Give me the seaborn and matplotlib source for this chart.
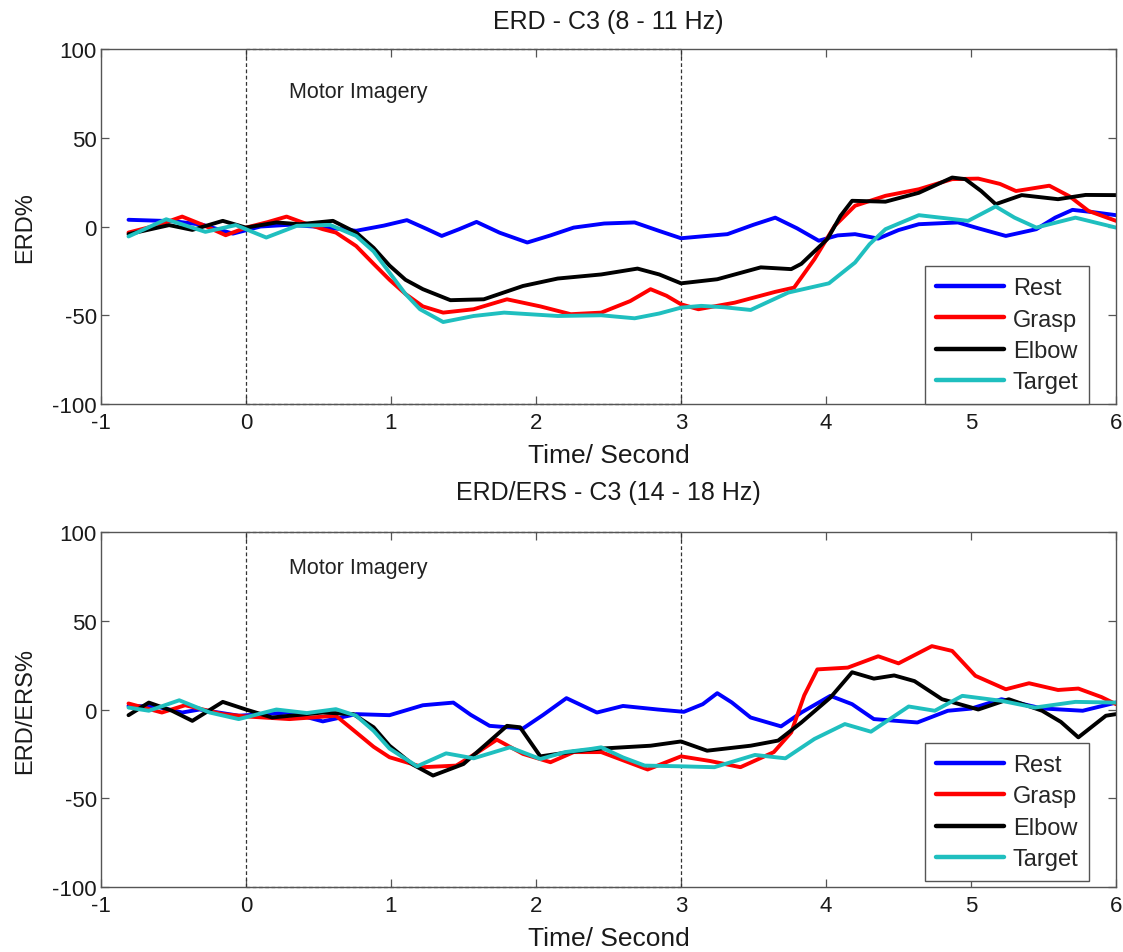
import matplotlib
matplotlib.use("Agg")
import matplotlib.pyplot as plt
import seaborn as sns
import pandas as pd

# ---- ERD, C3, 8-11 Hz ----
a_rest_t = [-0.81, -0.5, -0.3, -0.09, 0.1, 0.3, 0.55, 0.76, 0.95, 1.11, 1.25, 1.35, 1.47, 1.59, 1.75, 1.94, 2.1, 2.26, 2.47, 2.68, 2.85, 3.0, 3.15, 3.32, 3.5, 3.65, 3.8, 3.95, 4.08, 4.2, 4.36, 4.5, 4.64, 4.91, 5.05, 5.24, 5.45, 5.58, 5.7, 5.85, 6.0]
a_rest_v = [3.8, 3.0, 1.0, -4.0, 0.0, 1.0, -0.5, -2.4, 0.5, 3.6, -1.5, -5.3, -1.5, 2.6, -3.5, -9.0, -5.0, -0.6, 1.7, 2.3, -2.5, -6.6, -5.5, -4.3, 1.0, 5.0, -1.0, -8.0, -5.0, -4.3, -6.8, -2.0, 1.3, 2.3, -1.0, -5.3, -1.5, 5.0, 9.4, 8.0, 6.4]

a_grasp_t = [-0.81, -0.6, -0.44, -0.3, -0.14, 0.0, 0.15, 0.28, 0.4, 0.53, 0.62, 0.76, 0.88, 0.99, 1.1, 1.22, 1.36, 1.57, 1.8, 2.03, 2.24, 2.45, 2.65, 2.79, 2.9, 3.0, 3.12, 3.37, 3.65, 3.78, 3.92, 4.06, 4.2, 4.41, 4.64, 4.87, 5.05, 5.2, 5.31, 5.54, 5.68, 5.81, 6.0]
a_grasp_v = [-3.4, 1.0, 5.6, 1.0, -4.9, -0.6, 2.5, 5.6, 2.0, -1.5, -3.4, -11.0, -21.0, -30.0, -38.0, -45.0, -48.5, -46.6, -41.0, -45.0, -49.4, -48.5, -42.0, -35.3, -39.0, -43.8, -46.6, -42.9, -36.8, -34.4, -18.4, 0.4, 11.7, 17.3, 21.0, 26.7, 27.0, 24.0, 20.0, 23.0, 17.0, 8.8, 3.2]

a_elbow_t = [-0.81, -0.53, -0.37, -0.16, 0.0, 0.21, 0.37, 0.6, 0.76, 0.88, 0.99, 1.1, 1.22, 1.41, 1.64, 1.91, 2.15, 2.45, 2.7, 2.85, 3.0, 3.25, 3.55, 3.76, 3.83, 4.01, 4.1, 4.18, 4.41, 4.64, 4.87, 4.96, 5.07, 5.17, 5.35, 5.6, 5.79, 6.0]
a_elbow_v = [-4.3, 0.8, -1.9, 3.2, -0.6, 2.3, 1.3, 3.2, -3.4, -12.0, -22.0, -30.0, -35.3, -41.5, -41.0, -33.5, -29.3, -27.0, -23.7, -27.0, -32.0, -29.7, -23.0, -24.0, -21.0, -7.0, 6.0, 14.5, 14.0, 19.0, 27.6, 26.7, 20.0, 12.6, 17.7, 15.4, 17.8, 17.7]

a_target_t = [-0.81, -0.55, -0.28, -0.07, 0.14, 0.35, 0.58, 0.76, 0.88, 0.99, 1.1, 1.2, 1.36, 1.57, 1.78, 2.15, 2.45, 2.68, 2.85, 3.0, 3.14, 3.3, 3.48, 3.74, 4.02, 4.2, 4.3, 4.41, 4.64, 4.98, 5.17, 5.3, 5.45, 5.72, 6.0]
a_target_v = [-5.6, 4.1, -3.0, 0.8, -6.2, 0.4, 0.9, -5.3, -14.0, -26.0, -38.0, -46.6, -53.8, -50.4, -48.5, -50.4, -50.0, -51.7, -49.0, -45.7, -44.7, -45.5, -47.0, -37.2, -32.0, -20.3, -10.0, -1.5, 6.4, 3.2, 11.3, 5.0, -0.6, 5.0, -0.6]

# ---- ERD/ERS, C3, 14-18 Hz ----
b_rest_t = [-0.81, -0.62, -0.44, -0.32, -0.05, 0.3, 0.53, 0.76, 0.99, 1.22, 1.43, 1.55, 1.68, 1.91, 2.05, 2.21, 2.42, 2.6, 2.84, 3.02, 3.15, 3.25, 3.35, 3.48, 3.69, 3.83, 4.03, 4.18, 4.33, 4.63, 4.84, 5.0, 5.21, 5.49, 5.77, 6.0]
b_rest_v = [2.0, 1.7, -1.7, 0.0, -3.5, -1.7, -6.7, -2.6, -3.2, 2.4, 3.9, -3.0, -9.2, -10.7, -3.0, 6.4, -1.7, 2.0, 0.0, -1.3, 3.0, 9.2, 4.0, -4.5, -9.5, -1.7, 7.7, 3.0, -5.4, -7.3, -0.7, 0.5, 5.8, 0.6, -0.7, 3.9]

b_grasp_t = [-0.81, -0.58, -0.42, -0.16, 0.0, 0.3, 0.62, 0.76, 0.88, 0.99, 1.22, 1.45, 1.6, 1.73, 1.91, 2.1, 2.26, 2.45, 2.77, 3.0, 3.2, 3.41, 3.64, 3.76, 3.85, 3.94, 4.15, 4.36, 4.5, 4.73, 4.87, 5.03, 5.24, 5.4, 5.6, 5.74, 5.9, 6.0]
b_grasp_v = [3.4, -1.7, 2.4, -2.6, -3.9, -5.4, -3.5, -12.9, -21.0, -26.9, -32.5, -31.6, -24.0, -17.0, -25.0, -29.7, -24.0, -24.0, -33.8, -26.4, -29.0, -32.5, -24.0, -12.9, 8.0, 22.6, 23.6, 30.0, 26.0, 35.7, 33.0, 19.0, 11.4, 14.8, 11.0, 11.8, 7.0, 3.0]

b_elbow_t = [-0.81, -0.67, -0.51, -0.37, -0.16, 0.0, 0.18, 0.53, 0.74, 0.88, 0.99, 1.15, 1.29, 1.5, 1.65, 1.8, 1.89, 2.03, 2.26, 2.45, 2.79, 3.0, 3.18, 3.48, 3.67, 3.83, 4.03, 4.18, 4.33, 4.47, 4.61, 4.8, 5.05, 5.26, 5.49, 5.62, 5.74, 5.93, 6.0]
b_elbow_v = [-3.2, 3.9, -0.7, -6.4, 4.3, 0.0, -4.5, -1.7, -2.6, -10.0, -20.4, -31.0, -37.2, -30.7, -20.0, -9.2, -10.0, -26.4, -23.7, -22.0, -20.4, -18.0, -23.2, -20.4, -17.5, -7.3, 6.7, 21.0, 17.4, 19.2, 16.0, 5.8, 0.0, 5.8, -0.7, -7.0, -15.7, -3.5, -2.6]

b_target_t = [-0.81, -0.67, -0.46, -0.25, -0.05, 0.21, 0.42, 0.62, 0.76, 0.88, 0.99, 1.18, 1.38, 1.57, 1.82, 2.03, 2.2, 2.38, 2.45, 2.6, 2.75, 3.0, 3.23, 3.51, 3.72, 3.92, 4.13, 4.31, 4.57, 4.75, 4.94, 5.21, 5.44, 5.72, 6.0]
b_target_v = [1.1, -0.7, 5.2, -1.7, -5.4, 0.0, -2.0, 0.2, -3.5, -12.0, -22.0, -32.0, -24.7, -27.5, -21.3, -27.9, -24.0, -22.2, -21.3, -27.0, -31.6, -32.0, -32.5, -25.6, -27.5, -16.6, -8.2, -12.5, 1.7, -0.7, 7.7, 4.9, 1.1, 4.3, 3.9]

conditions = ["Rest", "Grasp", "Elbow", "Target"]
colors = ["#0000ff", "#ff0000", "#000000", "#1fbfbf"]

panel_titles = ["ERD - C3 (8 - 11 Hz)", "ERD/ERS - C3 (14 - 18 Hz)"]
panel_ylabels = ["ERD%", "ERD/ERS%"]
xlabel = "Time/ Second"
mi_label = "Motor Imagery"
mi_window = (0, 3)
xticks = [-1, 0, 1, 2, 3, 4, 5, 6]
yticks = [-100, -50, 0, 50, 100]

panels = [
    [(a_rest_t, a_rest_v), (a_grasp_t, a_grasp_v), (a_elbow_t, a_elbow_v), (a_target_t, a_target_v)],
    [(b_rest_t, b_rest_v), (b_grasp_t, b_grasp_v), (b_elbow_t, b_elbow_v), (b_target_t, b_target_v)],
]


def to_frame(series):
    rows = []
    for name, (t, v) in zip(conditions, series):
        for ti, vi in zip(t, v):
            rows.append({"time": ti, "value": vi, "condition": name})
    return pd.DataFrame(rows)


sns.set_theme(style="white")
plt.rcParams["font.family"] = ["Liberation Sans", "DejaVu Sans"]
plt.rcParams["axes.unicode_minus"] = False
plt.rcParams["axes.edgecolor"] = "#555555"
plt.rcParams["axes.linewidth"] = 1.0

fig = plt.figure(figsize=(11.23, 9.53), dpi=100)
axes_rects = [
    [0.0899, 0.575, 0.9039, 0.3725],
    [0.0899, 0.0682, 0.9039, 0.3725],
]
title_y = [1.079, 1.113]
mi_text_y = [76, 80]
legend_anchor_y = [0.0, 0.017]
text_color = "#1a1a1a"

for i, series in enumerate(panels):
    ax = fig.add_axes(axes_rects[i])
    df = to_frame(series)
    sns.lineplot(data=df, x="time", y="value", hue="condition", hue_order=conditions,
                 palette=colors, linewidth=2.8, sort=False, estimator=None, ax=ax)

    # Motor imagery window outline
    x0, x1 = mi_window
    for xv in (x0, x1):
        ax.plot([xv, xv], [-100, 100], ls=(0, (3, 2)), color="#333333", lw=0.9, zorder=1)
    for yv in (-100, 100):
        ax.plot([x0, x1], [yv, yv], ls=(0, (3, 2)), color="#333333", lw=0.9, zorder=1, clip_on=False)
    ax.text(0.3, mi_text_y[i], mi_label, fontsize=15.5, color="#222222", va="center", ha="left")

    ax.set_xlim(-1, 6)
    ax.set_ylim(-100, 100)
    ax.set_xticks(xticks)
    ax.set_yticks(yticks)
    ax.tick_params(direction="in", length=6, width=0.9, color="#555555",
                   top=True, right=True, bottom=True, left=True,
                   labelsize=16, labelcolor=text_color)
    ax.tick_params(axis="x", pad=6)
    ax.tick_params(axis="y", pad=3)
    ax.set_title(panel_titles[i], fontsize=18, color=text_color, y=title_y[i], va="center", pad=0)
    ax.set_xlabel(xlabel, fontsize=19, color=text_color)
    ax.xaxis.label.set_va("center")
    ax.xaxis.set_label_coords(0.5, -0.145)
    ax.set_ylabel(panel_ylabels[i], fontsize=17, color=text_color)
    ax.yaxis.label.set_va("center")
    ax.yaxis.set_label_coords(-0.075, 0.5)

    leg = ax.legend(loc="lower right", bbox_to_anchor=(0.9734, legend_anchor_y[i]),
                    fontsize=17, frameon=True, fancybox=False, framealpha=1,
                    edgecolor="#555555", handlelength=2.9, handletextpad=0.35,
                    borderpad=0.45, labelspacing=0.4, borderaxespad=0)
    leg.get_frame().set_linewidth(1.0)
    for line in leg.get_lines():
        line.set_linewidth(3.2)
    ax.grid(False)

fig.savefig("out.png", dpi=100, facecolor="white")
